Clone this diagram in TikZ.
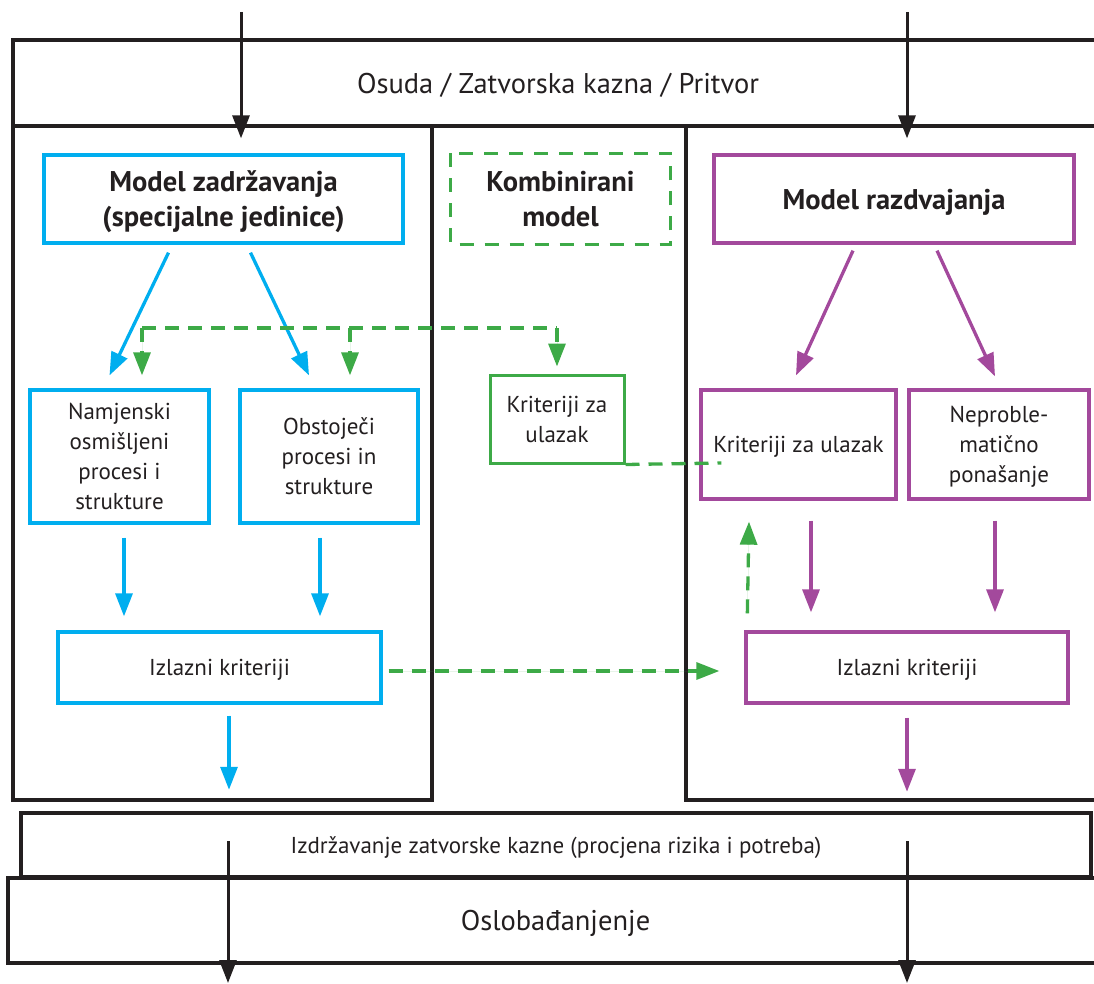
\documentclass[tikz,border=0pt]{standalone}
\usepackage{fontspec}
\setmainfont{PT Sans}
\usetikzlibrary{arrows.meta}
\definecolor{zblue}{HTML}{00AEEF}
\definecolor{zgreen}{HTML}{3DAA47}
\definecolor{zpurple}{HTML}{A3499C}
\definecolor{zblack}{HTML}{231F20}
\newcommand\bandfont{\fontsize{28.5}{32}\selectfont}
\newcommand\headfont{\fontsize{28.5}{35}\selectfont\bfseries}
\newcommand\boxfont{\fontsize{23}{30}\selectfont}
\tikzset{
  band/.style={rectangle,draw=zblack,line width=3.5pt,inner sep=0pt,text=zblack,text depth=0pt},
  bluebox/.style={rectangle,draw=zblue,line width=3.3pt,inner sep=0pt,align=center,text=zblack,text depth=0pt},
  purplebox/.style={rectangle,draw=zpurple,line width=3.3pt,inner sep=0pt,align=center,text=zblack,text depth=0pt},
  greenbox/.style={rectangle,draw=zgreen,line width=3pt,inner sep=0pt,align=center,text=zblack,text depth=0pt},
  arr/.style={-{Triangle[length=23pt,width=17pt]}},
  blackarr/.style={arr,draw=zblack,fill=zblack,line width=3pt},
  bluearr/.style={arr,draw=zblue,fill=zblue,line width=3.3pt},
  purplearr/.style={arr,draw=zpurple,fill=zpurple,line width=3.3pt},
  greendash/.style={draw=zgreen,line width=3.3pt,dash pattern=on 14pt off 9pt},
  greenarr/.style={greendash,-{Triangle[length=23pt,width=17pt]},fill=zgreen},
}
\begin{document}
\begin{tikzpicture}[x=1pt,y=-1pt]
\clip (0,0) rectangle (1094,984);
% frames
\node at (558,83) [band,minimum width=1090pt,minimum height=86pt,font=\bandfont] (osuda) {Osuda / Zatvorska kazna / Pritvor};
\node at (222.5,463) [band,minimum width=419pt,minimum height=674pt] (lp) {};
\node at (898,463) [band,minimum width=424pt,minimum height=674pt] (rp) {};
\node at (556,845) [band,minimum width=1070pt,minimum height=64pt,font=\boxfont] (izd) {Izdržavanje zatvorske kazne (procjena rizika i potreba)};
\node at (555.5,920.5) [band,minimum width=1095pt,minimum height=85pt,font=\bandfont] (oslob) {Oslobađanjenje};
%
% models
\node at (223.5,199) [bluebox,minimum width=359pt,minimum height=88pt,font=\headfont] (mz) {Model zadržavanja\\(specijalne jedinice)};
\node at (560.5,199) [greenbox,draw=none,minimum width=217pt,minimum height=88pt,font=\headfont] (km) {Kombinirani\\model};
\draw[greendash,dash pattern=on 14pt off 11pt] (km.north west) rectangle (km.south east);
\node at (894,199) [purplebox,minimum width=360pt,minimum height=88pt,font=\headfont] (mr) {Model razdvajanja};
%
\node at (119.5,456.5) [bluebox,minimum width=179pt,minimum height=133pt,font=\boxfont] (nam) {Namjenski\\osmišljeni\\procesi i\\strukture};
\node at (329,456.5) [bluebox,minimum width=178pt,minimum height=133pt,font=\boxfont] (obs) {Obstoječi\\procesi in\\strukture};
\node at (557,419) [greenbox,minimum width=134pt,minimum height=88pt,font=\boxfont] (kz) {Kriteriji za\\ulazak};
\node at (798.5,444.5) [purplebox,minimum width=195pt,minimum height=109pt,font=\boxfont] (kr) {Kriteriji za ulazak};
\node at (999,444.5) [purplebox,minimum width=180pt,minimum height=109pt,font=\boxfont] (nep) {Neproble-\\matično\\ponašanje};
%
\node at (219.5,667.5) [bluebox,minimum width=323pt,minimum height=71pt,font=\boxfont] (izl) {Izlazni kriteriji};
\node at (907,667.5) [purplebox,minimum width=322pt,minimum height=71pt,font=\boxfont] (izr) {Izlazni kriteriji};
%
% black arrows
\coordinate (in1) at (241,12);
\coordinate (in2) at (907,12);
\coordinate (out1s) at (228,841);
\coordinate (out1e) at (228,983);
\coordinate (out2s) at (907,841);
\coordinate (out2e) at (907,983);
\draw[blackarr] (in1) -- ([shift={(17.5,-15)}]mz.north);
\draw[blackarr] (in2) -- ([shift={(13,-15)}]mr.north);
\draw[blackarr] (out1s) -- (out1e);
\draw[blackarr] (out2s) -- (out2e);
%
% blue arrows
\draw[bluearr] ([shift={(-55,8)}]mz.south) -- ([shift={(-10,-13)}]nam.north);
\draw[bluearr] ([shift={(27,8)}]mz.south) -- ([shift={(-20,-13)}]obs.north);
\draw[bluearr] ([shift={(4.5,13)}]nam.south) -- ([shift={(-95.5,-14)}]izl.north);
\draw[bluearr] ([shift={(-9,13)}]obs.south) -- ([shift={(100.5,-14)}]izl.north);
\draw[bluearr] ([shift={(9.5,11)}]izl.south) -- ([shift={(6.5,-12)}]lp.south);
%
% purple arrows
\draw[purplearr] ([shift={(-41,6)}]mr.south) -- ([shift={(-2.5,-13)}]kr.north);
\draw[purplearr] ([shift={(43,6)}]mr.south) -- ([shift={(-4,-12)}]nep.north);
\draw[purplearr] ([shift={(12.5,20)}]kr.south) -- ([shift={(-96,-18)}]izr.north);
\draw[purplearr] ([shift={(-4,20)}]nep.south) -- ([shift={(88,-18)}]izr.north);
\draw[purplearr] ([shift={(0,13)}]izr.south) -- ([shift={(9,-10)}]rp.south);
%
% green dashed links
\coordinate (gl) at (142,328);
\coordinate (gm) at (350,328);
\coordinate (gr) at (557,328);
\draw[greendash] (gl) -- (gr);
\draw[greenarr,shorten >=13pt] (gl) -- (gl |- nam.north);
\draw[greenarr,shorten >=13pt] (gm) -- (gm |- obs.north);
\draw[greenarr,shorten >=7pt] (gr) -- (gr |- kz.north);
\draw[greendash] (kz.south east) -- ([shift={(22,18.5)}]kr.west);
\draw[greenarr] ([shift={(6,3.5)}]izl.east) -- ([shift={(-25,3.5)}]izr.west);
\draw[greenarr] ([shift={(3,-17)}]izr.north west) -- ([shift={(-49.5,21)}]kr.south);
\end{tikzpicture}
\end{document}
